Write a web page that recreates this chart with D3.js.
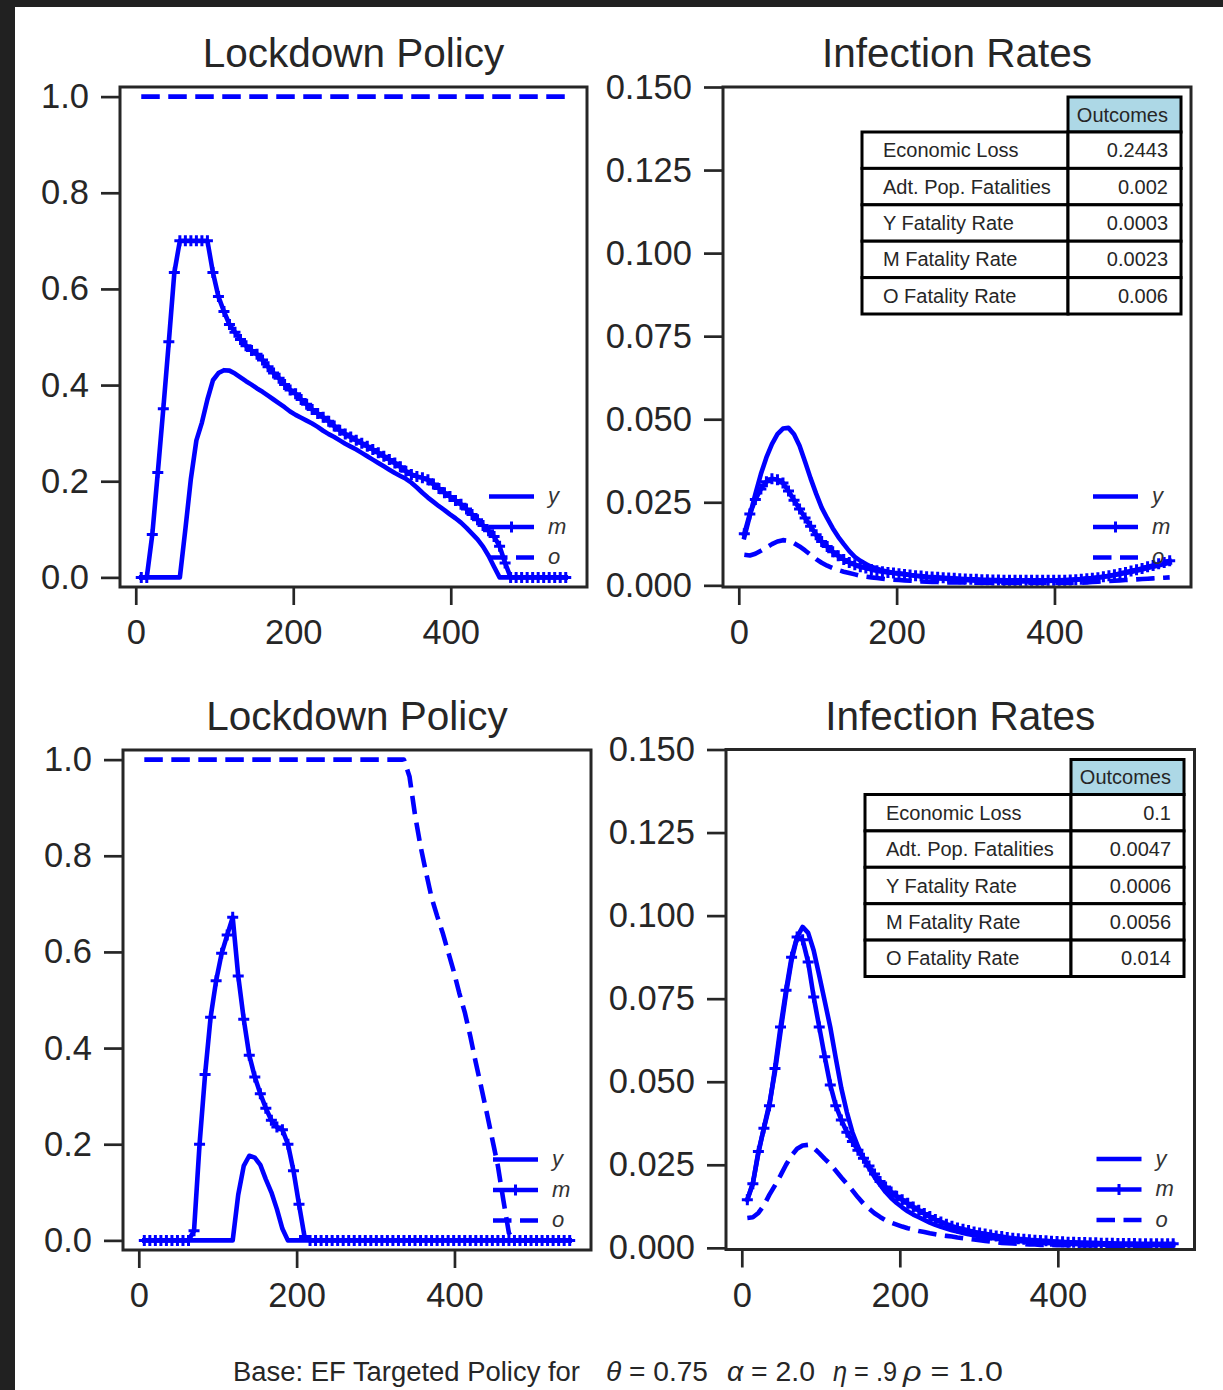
<!DOCTYPE html>
<html><head><meta charset="utf-8">
<script src="https://cdn.jsdelivr.net/npm/d3@7"></script>
<style>
html,body{margin:0;padding:0;background:#fff;}
svg{display:block;}
</style></head>
<body>
<svg id="chart" width="1223" height="1390"></svg>
<script>
// ---------------- data ----------------
const days = d3.range(7, 547, 7); // sample days 7..546
const dayTicks = [0, 200, 400];
const lockTicks = [0, 0.2, 0.4, 0.6, 0.8, 1.0];
const rateTicks = [0, 0.025, 0.05, 0.075, 0.1, 0.125, 0.15];
const groupNames = ["y", "m", "o"];
const titles = ["Lockdown Policy", "Infection Rates"];
const tableHeader = "Outcomes";
const tableLabels = ["Economic Loss", "Adt. Pop. Fatalities", "Y Fatality Rate", "M Fatality Rate", "O Fatality Rate"];
const outcomesTop = ["0.2443", "0.002", "0.0003", "0.0023", "0.006"];
const outcomesBottom = ["0.1", "0.0047", "0.0006", "0.0056", "0.014"];
const footerParts = ["Base: EF Targeted Policy for", "θ", " = 0.75", "α", " = 2.0", "η", " = .9", "ρ", " = 1.0"];

// top row, lockdown policy
const lockTopY = [0,0,0,0,0,0,0,0,0.1,0.205,
  0.285,0.322,0.37,0.41,0.425,0.431,0.43,0.424,0.416,0.408,
  0.401,0.393,0.386,0.378,0.37,0.362,0.354,0.345,0.338,0.332,
  0.326,0.32,0.313,0.305,0.298,0.292,0.285,0.278,0.272,0.266,
  0.259,0.252,0.245,0.238,0.231,0.224,0.217,0.211,0.205,0.197,
  0.187,0.176,0.166,0.157,0.148,0.14,0.131,0.123,0.114,0.103,
  0.091,0.079,0.064,0.045,0.022,0,0,0,0,0,
  0,0,0,0,0,0,0,0];
const lockTopM = [0,0,0.089,0.218,0.351,0.49,0.634,0.70,0.70,0.70,
  0.70,0.70,0.70,0.634,0.584,0.553,0.526,0.51,0.495,0.482,
  0.472,0.464,0.452,0.438,0.425,0.414,0.401,0.39,0.382,0.37,
  0.36,0.349,0.341,0.333,0.325,0.315,0.306,0.298,0.292,0.285,
  0.279,0.273,0.266,0.259,0.252,0.245,0.238,0.23,0.221,0.214,
  0.21,0.207,0.203,0.194,0.185,0.176,0.168,0.16,0.152,0.142,
  0.131,0.12,0.108,0.097,0.085,0.065,0.03,0,0,0,
  0,0,0,0,0,0,0,0];
const lockTopO = [1,1,1,1,1,1,1,1,1,1,
  1,1,1,1,1,1,1,1,1,1,
  1,1,1,1,1,1,1,1,1,1,
  1,1,1,1,1,1,1,1,1,1,
  1,1,1,1,1,1,1,1,1,1,
  1,1,1,1,1,1,1,1,1,1,
  1,1,1,1,1,1,1,1,1,1,
  1,1,1,1,1,1,1,1];

// top row, infection rates
const rateTopY = [0.0145,0.021,0.0275,0.0335,0.0385,0.0425,0.0455,0.0472,0.0474,0.0455,
  0.042,0.0372,0.0322,0.0276,0.0234,0.0202,0.0172,0.0146,0.0124,0.0103,
  0.0086,0.0074,0.0064,0.0056,0.005,0.0045,0.0041,0.0038,0.0036,0.0034,
  0.0031,0.0029,0.0027,0.0025,0.0023,0.0021,0.002,0.0019,0.0018,0.0017,
  0.0016,0.0015,0.0014,0.0014,0.0013,0.0013,0.0012,0.0012,0.0012,0.0012,
  0.0012,0.0012,0.0012,0.0012,0.0013,0.0013,0.0014,0.0015,0.0016,0.0017,
  0.0018,0.0019,0.0021,0.0022,0.0024,0.0026,0.0028,0.0031,0.0034,0.0037,
  0.004,0.0044,0.0048,0.0052,0.0056,0.006,0.0064,0.0068];
const rateTopM = [0.0155,0.0215,0.0258,0.029,0.0312,0.0321,0.0318,0.0308,0.0284,0.0256,
  0.023,0.0203,0.0178,0.0152,0.0132,0.0117,0.0101,0.0089,0.0078,0.0069,
  0.0062,0.0056,0.0052,0.0048,0.0044,0.0041,0.0039,0.0037,0.0035,0.0033,
  0.0031,0.0029,0.0028,0.0026,0.0025,0.0024,0.0023,0.0022,0.0021,0.002,
  0.0019,0.0018,0.0018,0.0017,0.0017,0.0016,0.0016,0.0015,0.0015,0.0015,
  0.0015,0.0015,0.0015,0.0015,0.0015,0.0015,0.0015,0.0015,0.0015,0.0016,
  0.0017,0.0018,0.002,0.0021,0.0023,0.0026,0.0029,0.0032,0.0036,0.0039,
  0.0043,0.0047,0.0051,0.0056,0.006,0.0065,0.0069,0.0074];
const rateTopO = [0.0092,0.009,0.0095,0.0104,0.0114,0.0124,0.0132,0.0136,0.0134,0.0127,
  0.0117,0.0105,0.0092,0.0079,0.0068,0.0059,0.0052,0.0046,0.0041,0.0037,
  0.0033,0.0029,0.0026,0.0024,0.0022,0.002,0.0018,0.0017,0.0016,0.0015,
  0.0014,0.0013,0.0012,0.0011,0.001,0.001,0.0009,0.0009,0.0009,0.0009,
  0.0009,0.0008,0.0008,0.0008,0.0008,0.0008,0.0008,0.0008,0.0008,0.0008,
  0.0008,0.0008,0.0008,0.0008,0.0008,0.0008,0.0008,0.0008,0.0008,0.0008,
  0.0008,0.0008,0.0009,0.001,0.0011,0.0012,0.0013,0.0014,0.0015,0.0016,
  0.0017,0.0018,0.0019,0.002,0.0021,0.0022,0.0023,0.0024];

// bottom row, lockdown policy
const lockBotY = [0,0,0,0,0,0,0,0,0,0,
  0,0,0,0,0,0,0,0.095,0.155,0.176,
  0.172,0.157,0.127,0.1,0.065,0.024,0,0,0,0,
  0,0,0,0,0,0,0,0,0,0,
  0,0,0,0,0,0,0,0,0,0,
  0,0,0,0,0,0,0,0,0,0,
  0,0,0,0,0,0,0,0,0,0,
  0,0,0,0,0,0,0,0];
const lockBotM = [0,0,0,0,0,0,0,0,0,0.02,
  0.2,0.345,0.464,0.54,0.597,0.635,0.672,0.55,0.46,0.385,
  0.34,0.305,0.275,0.25,0.236,0.23,0.2,0.145,0.075,0.008,
  0,0,0,0,0,0,0,0,0,0,
  0,0,0,0,0,0,0,0,0,0,
  0,0,0,0,0,0,0,0,0,0,
  0,0,0,0,0,0,0,0,0,0,
  0,0,0,0,0,0,0,0];
const lockBotO = [1,1,1,1,1,1,1,1,1,1,
  1,1,1,1,1,1,1,1,1,1,
  1,1,1,1,1,1,1,1,1,1,
  1,1,1,1,1,1,1,1,1,1,
  1,1,1,1,1,1,1,1,0.965,0.885,
  0.82,0.765,0.713,0.675,0.64,0.6,0.56,0.515,0.475,0.425,
  0.37,0.318,0.265,0.21,0.155,0.083,0.015,0,0,0,
  0,0,0,0,0,0,0,0];

// bottom row, infection rates
const rateBotY = [0.0145,0.0195,0.0285,0.0362,0.0435,0.053,0.065,0.0765,0.0865,0.0935,
  0.0966,0.0948,0.0895,0.082,0.0742,0.0664,0.057,0.048,0.0408,0.0348,
  0.0305,0.027,0.024,0.0213,0.019,0.0168,0.015,0.0135,0.0122,0.011,
  0.01,0.0092,0.0084,0.0076,0.0069,0.0063,0.0058,0.0053,0.0049,0.0045,
  0.0041,0.0038,0.0035,0.0032,0.003,0.0028,0.0026,0.0024,0.0022,0.0021,
  0.0019,0.0018,0.0017,0.0016,0.0015,0.0014,0.0013,0.0013,0.0012,0.0012,
  0.0011,0.0011,0.001,0.001,0.001,0.0009,0.0009,0.0009,0.0009,0.0008,
  0.0008,0.0008,0.0008,0.0008,0.0008,0.0008,0.0008,0.0008];
const rateBotM = [0.0145,0.0193,0.029,0.036,0.0428,0.054,0.0665,0.0775,0.0875,0.0936,
  0.0927,0.086,0.0755,0.0665,0.0575,0.049,0.0428,0.0385,0.0348,0.032,
  0.0294,0.027,0.0246,0.0222,0.02,0.0183,0.0168,0.0155,0.0145,0.0134,
  0.0123,0.0113,0.0103,0.0094,0.0085,0.0078,0.0071,0.0065,0.006,0.0056,
  0.0052,0.0048,0.0045,0.0042,0.0039,0.0036,0.0034,0.0031,0.0029,0.0027,
  0.0026,0.0024,0.0023,0.0022,0.0021,0.002,0.0019,0.0018,0.0017,0.0017,
  0.0016,0.0016,0.0015,0.0015,0.0014,0.0014,0.0014,0.0013,0.0013,0.0013,
  0.0013,0.0012,0.0012,0.0012,0.0012,0.0012,0.0012,0.0012];
const rateBotO = [0.009,0.0092,0.0105,0.0128,0.016,0.0188,0.0218,0.025,0.0278,0.0298,
  0.0308,0.031,0.0301,0.0285,0.0268,0.0252,0.0232,0.0212,0.0193,0.0173,
  0.0152,0.0133,0.0118,0.0104,0.0093,0.0083,0.0076,0.007,0.0064,0.0059,
  0.0055,0.0051,0.0048,0.0044,0.0041,0.0038,0.0036,0.0034,0.0031,0.0029,
  0.0027,0.0025,0.0023,0.0021,0.0019,0.0017,0.0015,0.0014,0.0013,0.0012,
  0.0011,0.001,0.001,0.0009,0.0009,0.0009,0.0008,0.0008,0.0008,0.0008,
  0.0007,0.0007,0.0007,0.0007,0.0007,0.0006,0.0006,0.0006,0.0006,0.0006,
  0.0006,0.0006,0.0006,0.0005,0.0005,0.0005,0.0005,0.0005];

// ---------------- drawing ----------------
const FONT = "'Liberation Sans', Arial, Helvetica, sans-serif";
const INK = "#262626";
const BLUE = "#0000ff";
const LW = 4.6;

const svg = d3.select("#chart");
svg.append("rect").attr("x",0).attr("y",0).attr("width",1223).attr("height",1390).attr("fill","#fff");
svg.append("rect").attr("x",0).attr("y",0).attr("width",1223).attr("height",7).attr("fill","#212121");
svg.append("rect").attr("x",0).attr("y",0).attr("width",15).attr("height",1390).attr("fill","#212121");

const panels = [
  {x:120, y:87,    w:467,   h:500, title:titles[0], yDomain:[-0.02,1.02],   ticks:lockTicks, fmt:d3.format(".1f"), series:[lockTopY, lockTopM, lockTopO], table:null},
  {x:723, y:87,    w:468,   h:500, title:titles[1], yDomain:[-0.0005,0.15], ticks:rateTicks, fmt:d3.format(".3f"), series:[rateTopY, rateTopM, rateTopO], table:outcomesTop},
  {x:123, y:750,   w:468,   h:500, title:titles[0], yDomain:[-0.02,1.02],   ticks:lockTicks, fmt:d3.format(".1f"), series:[lockBotY, lockBotM, lockBotO], table:null},
  {x:726, y:749.5, w:468.5, h:500, title:titles[1], yDomain:[-0.0005,0.15], ticks:rateTicks, fmt:d3.format(".3f"), series:[rateBotY, rateBotM, rateBotO], table:outcomesBottom}
];

const crossPath = "M-5.5,0H5.5M0,-5.5V5.5";

panels.forEach(p => {
  const g = svg.append("g").attr("transform", `translate(${p.x},${p.y})`);
  const x = d3.scaleLinear().domain([-20, 573]).range([0, p.w]);
  const y = d3.scaleLinear().domain(p.yDomain).range([p.h, 0]);

  // title
  g.append("text").attr("x", p.w/2).attr("y", -20)
    .attr("text-anchor","middle").attr("font-family",FONT).attr("font-size",40.5)
    .attr("fill",INK).text(p.title);

  // axes
  const ya = g.append("g").call(d3.axisLeft(y).tickValues(p.ticks).tickFormat(p.fmt)
      .tickSizeInner(19).tickSizeOuter(0).tickPadding(12));
  const xa = g.append("g").attr("transform",`translate(0,${p.h})`)
    .call(d3.axisBottom(x).tickValues(dayTicks).tickFormat(d3.format("d"))
      .tickSizeInner(18).tickSizeOuter(0).tickPadding(15));
  [ya, xa].forEach(a => {
    a.select(".domain").remove();
    a.selectAll(".tick line").attr("stroke",INK).attr("stroke-width",2.7);
    a.selectAll(".tick text").attr("font-family",FONT).attr("font-size",34.5).attr("fill",INK);
  });

  // table
  if (p.table) {
    const tl = 139, ts = 345, tr = 458, tt = 10, hh = 35, rh = 36.4;
    const tg = g.append("g").attr("font-family",FONT).attr("font-size",20).attr("fill",INK);
    tg.append("rect").attr("x",ts).attr("y",tt).attr("width",tr-ts).attr("height",hh)
      .attr("fill","#add8e6").attr("stroke","#000").attr("stroke-width",3);
    tg.append("text").attr("x",tr-13).attr("y",tt+hh/2).attr("dy","0.35em")
      .attr("text-anchor","end").text(tableHeader);
    tableLabels.forEach((lab,i) => {
      const ry = tt + hh + i*rh;
      tg.append("rect").attr("x",tl).attr("y",ry).attr("width",ts-tl).attr("height",rh)
        .attr("fill","#fff").attr("stroke","#000").attr("stroke-width",3);
      tg.append("rect").attr("x",ts).attr("y",ry).attr("width",tr-ts).attr("height",rh)
        .attr("fill","#fff").attr("stroke","#000").attr("stroke-width",3);
      tg.append("text").attr("x",tl+21).attr("y",ry+rh/2).attr("dy","0.35em").text(lab);
      tg.append("text").attr("x",tr-13).attr("y",ry+rh/2).attr("dy","0.35em")
        .attr("text-anchor","end").text(p.table[i]);
    });
  }

  // lines
  const line = d3.line().x((d,i)=>x(days[i])).y(d=>y(d));
  const styles = [
    {dash:null, markers:false},
    {dash:null, markers:true},
    {dash:"18.5,8.5", markers:false}
  ];
  p.series.forEach((s, si) => {
    const st = styles[si];
    g.append("path").datum(s).attr("d", line).attr("fill","none")
      .attr("stroke",BLUE).attr("stroke-width",LW)
      .attr("stroke-linejoin","round")
      .attr("stroke-linecap", st.dash ? "butt" : "square")
      .attr("stroke-dasharray", st.dash);
    if (st.markers) {
      g.append("g").selectAll("path").data(s).join("path")
        .attr("transform",(d,i)=>`translate(${x(days[i])},${y(d)})`)
        .attr("d", crossPath).attr("stroke",BLUE).attr("stroke-width",3).attr("fill","none");
    }
  });

  // legend
  const lg = g.append("g").attr("transform",`translate(${p.w-98},${p.h-90.5})`);
  groupNames.forEach((nm, i) => {
    const yy = i*30.5;
    const st = styles[i];
    lg.append("line").attr("x1",0).attr("x2",45).attr("y1",yy).attr("y2",yy)
      .attr("stroke",BLUE).attr("stroke-width",LW)
      .attr("stroke-dasharray", st.dash);
    if (st.markers) {
      lg.append("path").attr("transform",`translate(22.5,${yy})`).attr("d",crossPath)
        .attr("stroke",BLUE).attr("stroke-width",3).attr("fill","none");
    }
    lg.append("text").attr("x",59).attr("y",yy).attr("dy","0.3em")
      .attr("font-family",FONT).attr("font-size",22).attr("font-style","italic")
      .attr("fill","#333").text(nm);
  });

  // frame
  g.append("rect").attr("x",0).attr("y",0).attr("width",p.w).attr("height",p.h)
    .attr("fill","none").attr("stroke",INK).attr("stroke-width",3);
});

// footer
const fy = 1381;
const foot = svg.append("g").attr("font-family",FONT).attr("font-size",27).attr("fill",INK);
foot.append("text").attr("x",233).attr("y",fy).attr("textLength",347).attr("lengthAdjust","spacingAndGlyphs").text(footerParts[0]);
const mathPieces = [[606,102,1],[727,88,3],[833,64,5],[903,100,7]];
mathPieces.forEach(([px,len,idx]) => {
  const t = foot.append("text").attr("x",px).attr("y",fy).attr("textLength",len).attr("lengthAdjust","spacingAndGlyphs");
  t.append("tspan").attr("font-style","italic").text(footerParts[idx]);
  t.append("tspan").text(footerParts[idx+1]);
});
</script>
</body></html>
